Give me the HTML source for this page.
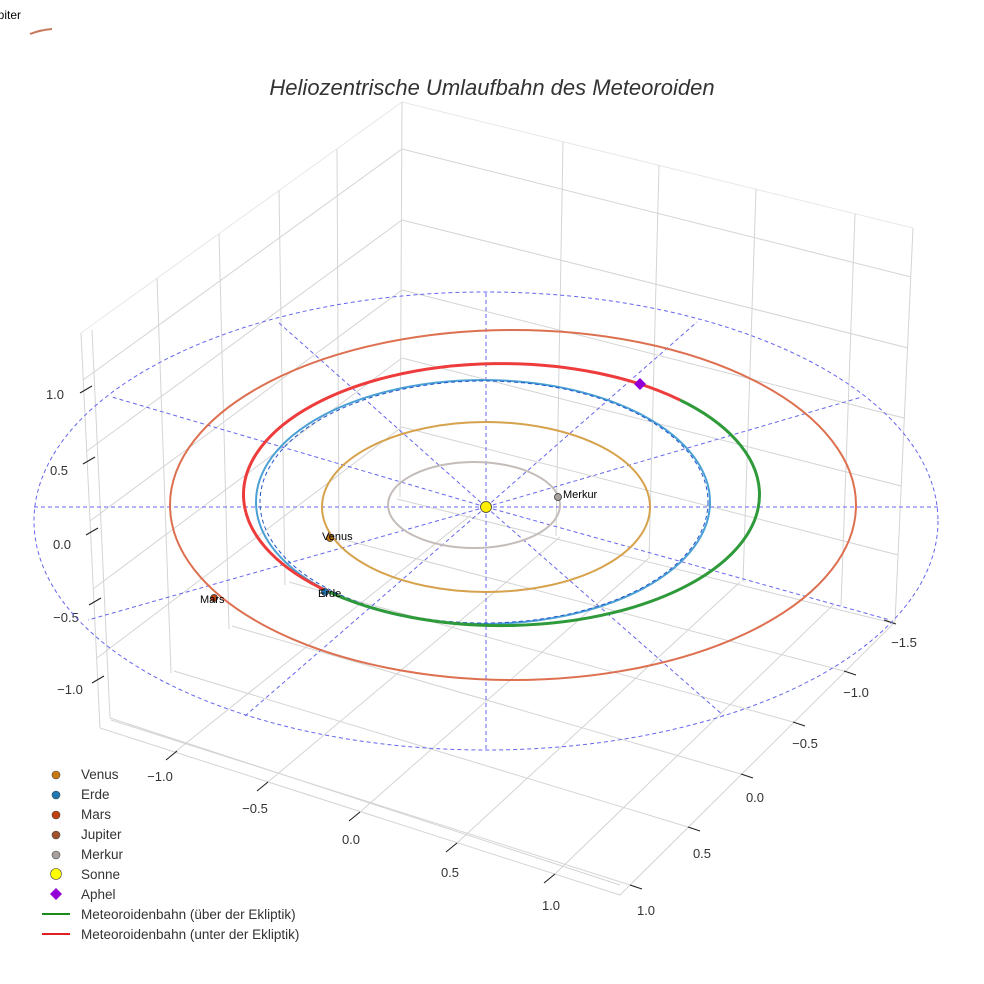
<!DOCTYPE html>
<html><head><meta charset="utf-8"><style>
html,body{margin:0;padding:0;background:#fff;}
svg{display:block;font-family:"Liberation Sans",sans-serif;}
</style></head><body>
<svg width="984" height="984" viewBox="0 0 984 984" xmlns="http://www.w3.org/2000/svg">
<rect width="984" height="984" fill="#fff"/>
<text x="-15" y="19" font-size="12" fill="#000">Jupiter</text>
<path d="M30 34 Q40 30 52 29" stroke="#c8785a" stroke-width="2" fill="none"/>
<text x="492" y="95" font-size="22" font-style="italic" fill="#333" text-anchor="middle">Heliozentrische Umlaufbahn des Meteoroiden</text>

<g stroke="#d4d4d4" stroke-width="1" fill="none">
<path d="M81 333 L402 102 L913 228" stroke="#e8e8e8"/>
<path d="M81 333 L100 728 M92 330 L110 718 M402 102 L400 497 M913 228 L895 622"/>
<path d="M100 728 L620 895 L895 622 M110 718 L620 885"/>
<path d="M402 149 L83 380 M402 220 L87 451 M402 290 L90 521 M402 358 L93 589 M402 427 L97 658"/>
<path d="M402 149 L911 277 M402 220 L908 348 M402 290 L904 418 M402 358 L901 486 M402 427 L898 555"/>
<path d="M157 278 L171 673 M219 234 L229 629 M279 190 L285 585 M337 149 L339 544"/>
<path d="M563 142 L556 536 M659 165 L649 559 M756 189 L743 582 M855 214 L841 606"/>
<path d="M175 752 L471 515 M268 782 L560 537 M360 812 L648 559 M457 843 L740 582 M555 874 L833 605"/>
<path d="M630 885 L111 720 M688 827 L174 671 M741 774 L232 626 M793 722 L289 582 M844 671 L345 540 M892 623 L397 499"/>
</g>
<g stroke="#222" stroke-width="1.1">
<path d="M80 393 L92 386 M83 464 L95 457 M86 535 L98 528 M89 605 L101 598 M92 683 L104 676"/>
<path d="M166 760 L177 751 M257 791 L268 782 M349 821 L360 812 M446 852 L457 843 M544 883 L555 874"/>
<path d="M630 885 L642 889 M688 827 L700 831 M741 774 L753 778 M793 722 L805 726 M844 671 L856 675 M884 620 L896 624"/>
</g>
<g font-size="13" fill="#333" text-anchor="middle">
<text x="55" y="399">1.0</text><text x="59" y="475">0.5</text><text x="62" y="549">0.0</text><text x="66" y="622">−0.5</text><text x="70" y="694">−1.0</text>
<text x="160" y="781">−1.0</text><text x="255" y="813">−0.5</text><text x="351" y="844">0.0</text><text x="450" y="877">0.5</text><text x="551" y="910">1.0</text>
<text x="646" y="915">1.0</text><text x="702" y="858">0.5</text><text x="755" y="802">0.0</text><text x="805" y="748">−0.5</text><text x="856" y="697">−1.0</text><text x="904" y="647">−1.5</text>
</g>

<g stroke="#6666ee" stroke-width="1" stroke-dasharray="4,3" fill="none">
<ellipse cx="486" cy="521" rx="452" ry="229"/>
<path d="M486 507 L486 293 M486 507 L697 322 M486 507 L862 397 M486 507 L938 507 M486 507 L890 620 M486 507 L724 716 M486 507 L486 750 M486 507 L245 716 M486 507 L88 620 M486 507 L34 507 M486 507 L112 397 M486 507 L278 322"/>
</g>

<g fill="none">
<ellipse cx="513" cy="505" rx="343" ry="175" stroke="#dd7050" stroke-width="2"/>
<ellipse cx="474" cy="505" rx="86" ry="43" stroke="#c4bcb8" stroke-width="2"/>
<ellipse cx="486" cy="507" rx="164" ry="85" stroke="#d6a24c" stroke-width="2"/>
<ellipse cx="483" cy="502" rx="227" ry="122" stroke="#4aa0d4" stroke-width="2"/>
<ellipse cx="484" cy="502" rx="224" ry="121" stroke="#2255cc" stroke-width="1" stroke-dasharray="4,3"/>
<path d="M680 400 A258 131 0 1 0 329 592" stroke="#ee3b3b" stroke-width="3"/>
<path d="M329 592 A258 131 0 0 0 680 400" stroke="#2e9a3a" stroke-width="3"/>
</g>

<g stroke="#333" stroke-width="0.8">
<circle cx="558" cy="497" r="3.5" fill="#a8a09c"/>
<circle cx="330" cy="538" r="3.5" fill="#c77a10"/>
<circle cx="325" cy="592" r="3.5" fill="#1f77b4"/>
<circle cx="214" cy="598" r="3.5" fill="#c0400f"/>
<circle cx="486" cy="507" r="5.5" fill="#ffee00"/>
</g>
<path d="M640 378 L646 384 L640 390 L634 384 Z" fill="#9400d3"/>
<g font-size="11" fill="#000">
<text x="563" y="498">Merkur</text>
<text x="322" y="540">Venus</text>
<text x="318" y="597">Erde</text>
<text x="200" y="603">Mars</text>
</g>

<g stroke="#444" stroke-width="0.6">
<circle cx="56" cy="775" r="4" fill="#c77a10"/>
<circle cx="56" cy="795" r="4" fill="#1f77b4"/>
<circle cx="56" cy="815" r="4" fill="#c0400f"/>
<circle cx="56" cy="835" r="4" fill="#a0522d"/>
<circle cx="56" cy="855" r="4" fill="#a8a09c"/>
<circle cx="56" cy="874" r="5.5" fill="#ffff00"/>
</g>
<path d="M56 888 L62 894 L56 900 L50 894 Z" fill="#9400d3"/>
<path d="M42 914 L70 914" stroke="#1a8a1a" stroke-width="2"/>
<path d="M42 934 L70 934" stroke="#e02020" stroke-width="2"/>
<g font-size="13.5" fill="#333">
<text x="81" y="779">Venus</text>
<text x="81" y="799">Erde</text>
<text x="81" y="819">Mars</text>
<text x="81" y="839">Jupiter</text>
<text x="81" y="859">Merkur</text>
<text x="81" y="879">Sonne</text>
<text x="81" y="899">Aphel</text>
<text x="81" y="919">Meteoroidenbahn (über der Ekliptik)</text>
<text x="81" y="939">Meteoroidenbahn (unter der Ekliptik)</text>
</g>
</svg>
</body></html>
